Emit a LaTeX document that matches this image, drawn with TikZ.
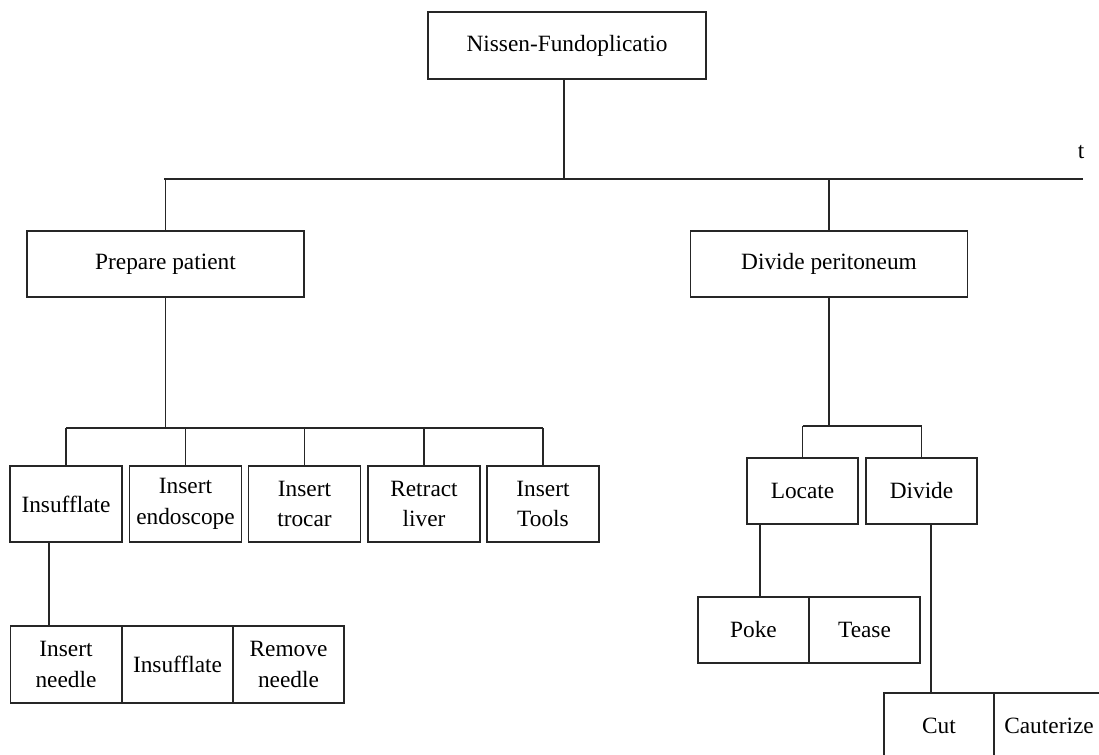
\documentclass[tikz,border=0pt]{standalone}
\usepackage{fontspec}
\setmainfont{Liberation Serif}
\begin{document}
\begin{tikzpicture}[x=0.75pt,y=-0.75pt,
  box/.style={draw=black!85,line width=1.2pt,inner sep=0pt,outer sep=0pt,
    align=center,font=\fontsize{17.5}{23}\selectfont},
  rootbox/.style={box,minimum width=208.5pt,minimum height=50.25pt},
  phase/.style={box,minimum width=207.75pt,minimum height=49.5pt},
  task/.style={box,minimum width=84pt,minimum height=57pt},
  subtask/.style={box,minimum width=83.25pt,minimum height=57.75pt},
  step2/.style={box,minimum width=83.25pt,minimum height=49.5pt},
  link/.style={draw=black!85,line width=1.2pt}]
\useasboundingbox (0,0) rectangle (1099,754);
\clip (0,0) rectangle (1099,754);

% root and phases
\node[rootbox] (root) at (567,45.5) {Nissen-Fundoplicatio};
\node[phase] (prep) at (165.5,264) {Prepare patient};
\node[phase] (divp) at (829,264) {Divide peritoneum};

% tasks of "Prepare patient"
\node[task] (insf)  at (66,504)    {Insufflate};
\node[task] (endo)  at (185.5,504) {Insert\\endoscope};
\node[task] (troc)  at (304.5,504) {Insert\\trocar};
\node[task] (retr)  at (424,504)   {Retract\\liver};
\node[task] (tools) at (543,504)   {Insert\\Tools};

% steps of "Insufflate"
\node[subtask] (needle) at (66,664.5)    {Insert\\needle};
\node[subtask] (insf2)  at (177.5,664.5) {Insufflate};
\node[subtask] (remove) at (288.5,664.5) {Remove\\needle};

% tasks of "Divide peritoneum"
\node[step2] (loc) at (802.5,491) {Locate};
\node[step2] (div) at (921.5,491) {Divide};
\node[step2] (poke)  at (753.5,630) {Poke};
\node[step2] (tease) at (864.5,630) {Tease};
\node[box,minimum width=82.5pt,minimum height=49.5pt] (cut) at (939,726) {Cut};
\node[box,minimum width=82.5pt,minimum height=49.5pt] (caut) at (1049,726) {Cauterize};

% time axis
\coordinate (busL) at (164,179);
\coordinate (busR) at (1083,179);
\node[font=\fontsize{17.5}{23}\selectfont,anchor=base,inner sep=0pt] (tlabel) at (1081,158) {t};
\draw[link] (busL) -- (busR);
\draw[link] ([xshift=-2.25pt]root.south) -- ([xshift=-2.25pt]root.south |- busL);
\draw[link] (prep.north |- busL) -- (prep.north);
\draw[link] (divp.north |- busL) -- (divp.north);

% left subtree
\coordinate (rowbar) at (0,428);
\draw[link] (prep.south) -- (prep.south |- rowbar);
\draw[link] (insf.north |- rowbar) -- (tools.north |- rowbar);
\foreach \n in {insf,endo,troc,retr,tools}
  \draw[link] (\n.north |- rowbar) -- (\n.north);
\draw[link] ([xshift=-12.75pt]insf.south) -- ([xshift=-12.75pt]needle.north);

% right subtree
\coordinate (dbar) at (0,426);
\draw[link] (divp.south) -- (divp.south |- dbar);
\draw[link] (loc.north |- dbar) -- (div.north |- dbar);
\draw[link] (loc.north |- dbar) -- (loc.north);
\draw[link] (div.north |- dbar) -- (div.north);
\draw[link] ([xshift=4.9pt]poke.north |- loc.south) -- ([xshift=4.9pt]poke.north);
\draw[link] ([xshift=-6pt]cut.north |- div.south) -- ([xshift=-6pt]cut.north);
\end{tikzpicture}
\end{document}
